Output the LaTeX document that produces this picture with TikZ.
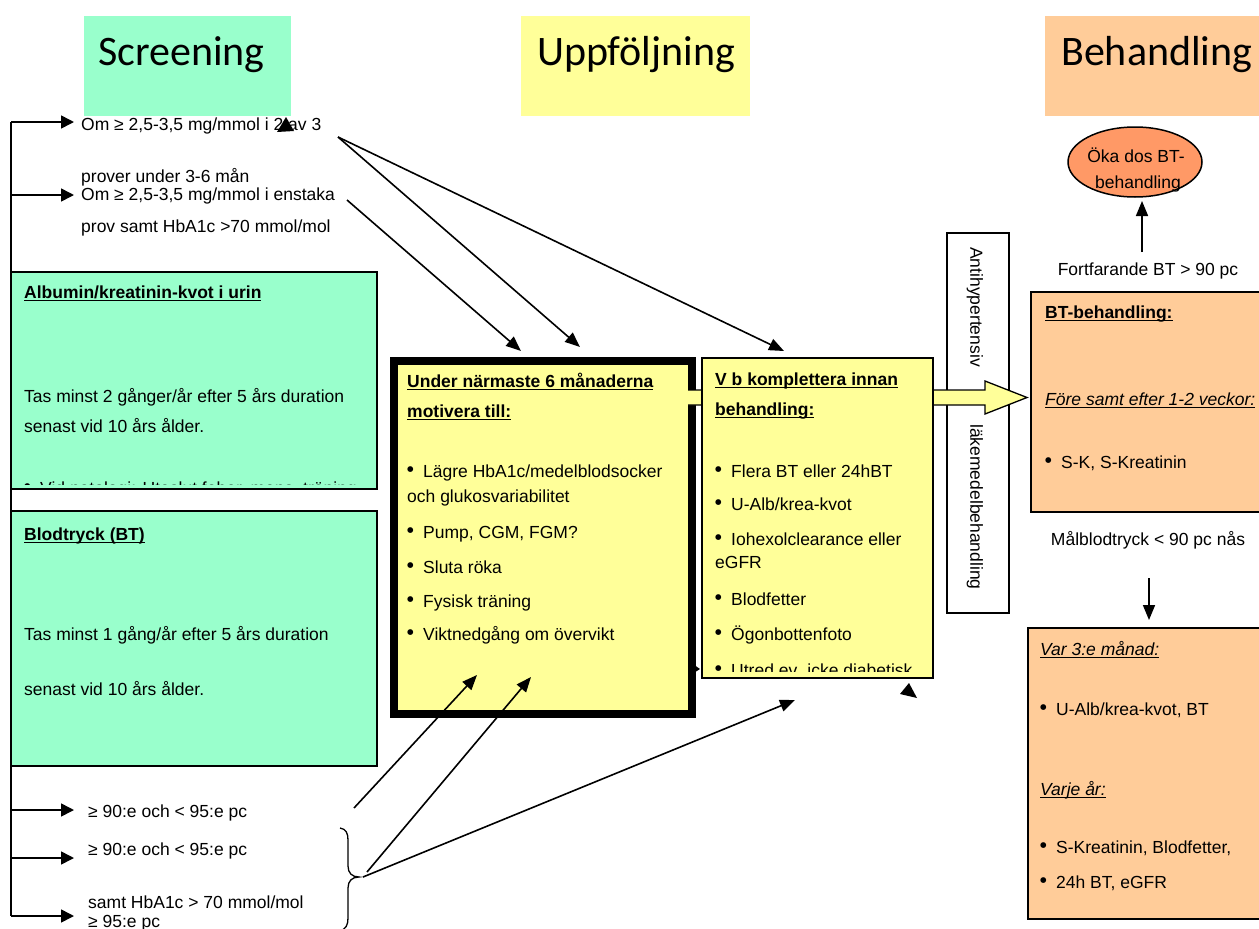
\documentclass[tikz,border=0pt]{standalone}
\usepackage{fontspec}
\setmainfont{Liberation Sans}
\newfontfamily\hdrfont{Carlito}
\newfontfamily\symfont{DejaVu Sans}
\usetikzlibrary{arrows.meta,shapes.geometric}
\definecolor{grn}{HTML}{99FFCC}
\definecolor{ylw}{HTML}{FFFF99}
\definecolor{org}{HTML}{FFCC99}
\definecolor{slm}{HTML}{FF9966}
\newsavebox\ulbox
\newcommand{\ulx}[1]{\sbox\ulbox{#1}\rlap{\rule[-2.8pt]{\wd\ulbox}{1.2pt}}\usebox\ulbox}
\newcommand{\bul}{\makebox[16pt][l]{\raisebox{5.5pt}{\symfont\fontsize{7.5}{8}\selectfont ●}}}
\newcommand{\bodyfont}{\fontsize{17.5}{21}\selectfont}
\begin{document}
\begin{tikzpicture}[x=1pt,y=-1pt,
  txt/.style={anchor=base west, inner sep=0pt, font=\bodyfont},
  ctr/.style={anchor=base, inner sep=0pt, font=\bodyfont},
  hdr/.style={anchor=base west, inner sep=0pt, font=\hdrfont\fontsize{42}{50}\selectfont},
  panel/.style={anchor=north west, inner sep=0pt, draw=black, line width=1.6pt},
  band/.style={anchor=north west, inner sep=0pt},
  arr/.style={-{Triangle[length=15pt,width=12pt]}, line width=1.6pt},
  sarr/.style={-{Triangle[length=13pt,width=13pt]}, line width=1.6pt}]
\useasboundingbox (0,0) rectangle (1259,929);
\fill[white] (0,0) rectangle (1259,929);
% headers
\node[band, fill=grn, minimum width=207pt, minimum height=100pt] (hScr) at (84,16) {};
\node[hdr] (tScr) at (98,65) {Screening};
\node[band, fill=ylw, minimum width=229pt, minimum height=100pt] (hUpp) at (521,16) {};
\node[hdr] (tUpp) at (537,65) {Uppföljning};
\node[band, fill=org, minimum width=214pt, minimum height=100pt] (hBeh) at (1045,16) {};
\node[hdr] (tBeh) at (1061,65) {Behandling};
% left spine and arrows
\coordinate (Ltop) at (11,122);
\coordinate (Lbot) at (11,916);
\draw[line width=1.6pt] (Ltop) -- (Lbot);
\coordinate (e1) at (74,122);
\coordinate (s2) at (11,195); \coordinate (e2) at (74,195);
\coordinate (s3) at (11,810); \coordinate (e3) at (74,810);
\coordinate (s4) at (11,858); \coordinate (e4) at (74,858);
\coordinate (e5) at (74,916);
\draw[sarr] (Ltop) -- (e1);
\draw[sarr] (s2) -- (e2);
\draw[sarr] (s3) -- (e3);
\draw[sarr] (s4) -- (e4);
\draw[sarr] (Lbot) -- (e5);
% top-left texts
\node[txt] (om1) at (81,130) {Om ≥ 2,5-3,5 mg/mmol i 2 av 3};
\node[txt] (om1b) at (81,182) {prover under 3-6 mån};
\node[txt] (om2) at (81,200) {Om ≥ 2,5-3,5 mg/mmol i enstaka};
\node[txt] (om2b) at (81,232) {prov samt HbA1c >70 mmol/mol};
\fill (277,132) -- (286,117) -- (294,131) -- cycle;
% albumin box
\node[panel, fill=grn, minimum width=366pt, minimum height=217pt] (alb) at (10,271) {};
\node[txt, font=\bodyfont\bfseries] (albT) at (24,298) {\ulx{Albumin/kreatinin-kvot i urin}};
\node[txt] (alb1) at (24,402) {Tas minst 2 gånger/år efter 5 års duration};
\node[txt] (alb2) at (24,432) {senast vid 10 års ålder.};
\begin{scope}
\clip (12,272) rectangle (375,484);
\node[txt] (alb3) at (24,494) {\bul Vid patologi: Uteslut feber, mens, träning};
\end{scope}
% blodtryck box
\node[panel, fill=grn, minimum width=366pt, minimum height=255pt] (bt) at (10,510) {};
\node[txt, font=\bodyfont\bfseries] (btT) at (24,540) {\ulx{Blodtryck (BT)}};
\node[txt] (bt1) at (24,640) {Tas minst 1 gång/år efter 5 års duration};
\node[txt] (bt2) at (24,695) {senast vid 10 års ålder.};
% bottom texts
\node[txt] (p1) at (88,817) {≥ 90:e och < 95:e pc};
\node[txt] (p2) at (88,855) {≥ 90:e och < 95:e pc};
\node[txt] (p3) at (88,908) {samt HbA1c > 70 mmol/mol};
\node[txt] (p4) at (88,927) {≥ 95:e pc};
% brace
\draw[line width=1.3pt] (340,828) .. controls (346,829) and (348,833) .. (348,840) -- (348,866) .. controls (348,873) and (352,877) .. (359,877) .. controls (352,877) and (348,881) .. (348,888) -- (348,918) .. controls (348,925) and (346,929) .. (340,931);
% vertical box
\node[panel, fill=white, minimum width=62pt, minimum height=380pt] (lak) at (946,232) {};
\node[rotate=-90, font=\bodyfont, inner sep=0pt] (lak1) at (975,307) {Antihypertensiv};
\node[rotate=-90, font=\bodyfont, inner sep=0pt] (lak2) at (975,507) {läkemedelbehandling};
% middle box
\node[anchor=north west, inner sep=0pt, draw=black, line width=8pt, fill=ylw, minimum width=298pt, minimum height=353pt] (mot) at (390,357) {};
\node[txt, font=\bodyfont\bfseries] (m0) at (407,387) {\ulx{Under närmaste 6 månaderna}};
\node[txt, font=\bodyfont\bfseries] (m1) at (407,417) {\ulx{motivera till:}};
\node[txt] (m2) at (407,477) {\bul Lägre HbA1c/medelblodsocker};
\node[txt] (m3) at (407,502) {och glukosvariabilitet};
\node[txt] (m4) at (407,538) {\bul Pump, CGM, FGM?};
\node[txt] (m5) at (407,573) {\bul Sluta röka};
\node[txt] (m6) at (407,607) {\bul Fysisk träning};
\node[txt] (m7) at (407,640) {\bul Viktnedgång om övervikt};
% big yellow arrow
\filldraw[fill=ylw, draw=black, line width=1.3pt] (688,390) -- (985,390) -- (985,381) -- (1027,397.5) -- (985,414) -- (985,405) -- (688,405);
% right yellow box
\node[panel, fill=ylw, minimum width=231pt, minimum height=320pt] (komp) at (701,357) {};
\node[txt, font=\bodyfont\bfseries] (k0) at (715,385) {\ulx{V b komplettera innan}};
\node[txt, font=\bodyfont\bfseries] (k1) at (715,415) {\ulx{behandling:}};
\node[txt] (k2) at (715,477) {\bul Flera BT eller 24hBT};
\node[txt] (k3) at (715,510) {\bul U-Alb/krea-kvot};
\node[txt] (k4) at (715,545) {\bul Iohexolclearance eller};
\node[txt] (k5) at (715,568) {eGFR};
\node[txt] (k6) at (715,605) {\bul Blodfetter};
\node[txt] (k7) at (715,640) {\bul Ögonbottenfoto};
\begin{scope}
\clip (702,358) rectangle (931,671);
\node[txt] (k8) at (715,676) {\bul Utred ev. icke diabetisk};
\end{scope}
\fill (689,676) -- (690,662) -- (700,669) -- cycle;
\fill (909,683) -- (900,694) -- (917,698) -- cycle;
% top arrows
\coordinate (tA) at (338,137);
\coordinate (tC) at (347,200);
\coordinate (eA) at (580,347);
\coordinate (eB) at (784,351);
\coordinate (eC) at (521,351);
\draw[arr] (tA) -- (eA);
\draw[arr] (tA) -- (eB);
\draw[arr] (tC) -- (eC);
% bottom arrows
\coordinate (b1s) at (354,808); \coordinate (b1e) at (477,675);
\coordinate (b2s) at (367,872); \coordinate (b2e) at (531,677);
\coordinate (b3s) at (363,877); \coordinate (b3e) at (795,700);
\draw[arr] (b1s) -- (b1e);
\draw[arr] (b2s) -- (b2e);
\draw[arr] (b3s) -- (b3e);
% right column
\node[ellipse, draw=black, line width=1.5pt, fill=slm, minimum width=134pt, minimum height=70pt, inner sep=0pt] (oka) at (1135,162) {};
\node[ctr] (oka1) at (1136,162) {Öka dos BT-};
\node[ctr] (oka2) at (1138,188) {behandling};
\coordinate (upS) at (1142,252);
\coordinate (upE) at (1142,201);
\draw[arr] (upS) -- (upE);
\node[ctr] (fort) at (1148,275) {Fortfarande BT > 90 pc};
\node[panel, fill=org, minimum width=240pt, minimum height=220pt] (btb) at (1030,291) {};
\node[txt, font=\bodyfont\bfseries] (bb0) at (1045,318) {\ulx{BT-behandling:}};
\node[txt, font=\bodyfont\itshape] (bb1) at (1045,405) {\ulx{Före samt efter 1-2 veckor:}};
\node[txt] (bb2) at (1045,468) {\bul S-K, S-Kreatinin};
\node[ctr] (mal) at (1148,545) {Målblodtryck < 90 pc nås};
\coordinate (dnS) at (1149,578);
\coordinate (dnE) at (1149,620);
\draw[arr] (dnS) -- (dnE);
\node[panel, fill=org, minimum width=240pt, minimum height=291pt] (var) at (1027,627) {};
\node[txt, font=\bodyfont\itshape] (v0) at (1040,655) {\ulx{Var 3:e månad:}};
\node[txt] (v1) at (1040,715) {\bul U-Alb/krea-kvot, BT};
\node[txt, font=\bodyfont\itshape] (v2) at (1040,795) {\ulx{Varje år:}};
\node[txt] (v3) at (1040,853) {\bul S-Kreatinin, Blodfetter,};
\node[txt] (v4) at (1040,888) {\bul 24h BT, eGFR};
\end{tikzpicture}
\end{document}
